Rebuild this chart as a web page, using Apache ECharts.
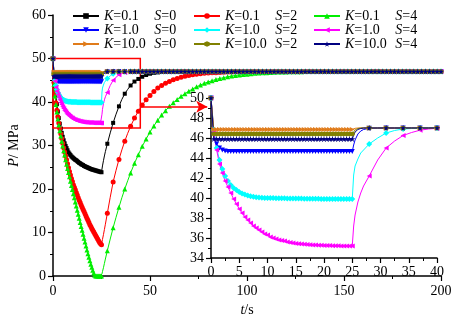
<!DOCTYPE html>
<html>
<head>
<meta charset="utf-8">
<script src="https://cdn.jsdelivr.net/npm/echarts@6.0.0/dist/echarts.min.js"></script>
<style>
  html, body { margin: 0; padding: 0; background: #fff; }
  #chart { width: 462px; height: 321px; }
</style>
</head>
<body>
<div id="chart"></div>
<script>
// legend parts
const K_LIST = ['0.1', '1.0', '10.0'];
const S_LIST = ['0', '2', '4'];

// time grid of the drawdown (0-25 s)
const DROP_T = [0, 0.5, 1, 1.5, 2, 2.5, 3, 3.5, 4, 4.5, 5, 5.5, 6, 6.5, 7, 7.5, 8, 8.5, 9, 9.5,
  10, 10.5, 11, 11.5, 12, 12.5, 13, 13.5, 14, 14.5, 15, 15.5, 16, 16.5, 17, 17.5, 18, 18.5, 19, 19.5,
  20, 20.5, 21, 21.5, 22, 22.5, 23, 23.5, 24, 24.5, 25];

// time grid of the build-up (25-200 s)
const REC_T = [25.25, 25.5, 26, 26.5, 27, 28, 29.5, 31, 32.5, 34, 35.5, 37, 38.5, 40,
  42, 44, 46, 48, 50, 52, 54, 56, 58, 60, 62, 64, 66, 68, 70, 72, 74, 76, 78, 80,
  82, 84, 86, 88, 90, 92, 94, 96, 98, 100, 102, 104, 106, 108, 110, 112, 114, 116, 118, 120,
  122, 124, 126, 128, 130, 132, 134, 136, 138, 140, 142, 144, 146, 148, 150, 152, 154, 156, 158, 160,
  162, 164, 166, 168, 170, 172, 174, 176, 178, 180, 182, 184, 186, 188, 190, 192, 194, 196, 198, 200];
// build-up points that carry a marker below 42 s
const REC_MARK_T = [28, 31, 34, 37, 40];

// pressure every curve settles at (MPa)
const P_STEADY = 47;

// drawdown pressures, MPa
const BLACK_DROP = [50, 46.5, 43.8, 41.5, 39.5, 37.8, 36.3, 35.0, 33.9, 32.9, 32.0, 31.2, 30.5, 29.9, 29.4, 28.9,
  28.4, 28.1, 27.8, 27.5, 27.3, 27.1, 26.9, 26.7, 26.6, 26.4, 26.2, 26.0, 25.9, 25.7, 25.6, 25.5, 25.3, 25.2,
  25.1, 25.0, 24.9, 24.8, 24.7, 24.6, 24.5, 24.45, 24.4, 24.3, 24.25, 24.2, 24.1, 24.05, 24.0, 23.9, 23.85];
const RED_DROP = [50, 44.5, 41.8, 39.8, 38.1, 36.6, 35.2, 33.9, 32.7, 31.6, 30.5, 29.5, 28.5, 27.6, 26.7, 25.8,
  24.9, 24.0, 23.2, 22.4, 21.7, 21.0, 20.4, 19.8, 19.2, 18.6, 18.0, 17.4, 16.9, 16.3, 15.8, 15.3, 14.8, 14.3,
  13.8, 13.3, 12.8, 12.3, 11.8, 11.4, 10.9, 10.5, 10.1, 9.7, 9.3, 8.9, 8.5, 8.1, 7.7, 7.4, 7.2];
const GREEN_DROP = [50, 44.0, 41.4, 39.4, 37.7, 36.1, 34.7, 33.4, 32.2, 31.0, 29.9, 28.8, 27.8, 26.7, 25.7, 24.7,
  23.8, 22.8, 21.8, 20.8, 19.9, 18.9, 18.0, 17.0, 16.1, 15.1, 14.2, 13.3, 12.3, 11.4, 10.5, 9.6, 8.7, 7.8,
  6.9, 6.0, 5.1, 4.3, 3.5, 2.7, 2.0, 1.3, 0.7, 0.2, 0, 0, 0, 0, 0, 0, 0];
const BLUE_DROP = [50, 46.4, 45.4, 45.0, 44.8, 44.7,
  44.65, 44.65, 44.65, 44.65, 44.65, 44.65, 44.65, 44.65, 44.65, 44.65,
  44.65, 44.65, 44.65, 44.65, 44.65, 44.65, 44.65, 44.65, 44.65, 44.65,
  44.65, 44.65, 44.65, 44.65, 44.65, 44.65, 44.65, 44.65, 44.65, 44.65,
  44.65, 44.65, 44.65, 44.65, 44.65, 44.65, 44.65, 44.65, 44.65, 44.65,
  44.65, 44.65, 44.65, 44.65, 44.65];
const CYAN_DROP = [50, 46.8, 45.0, 43.8, 42.9, 42.2, 41.7, 41.3, 41.0, 40.8, 40.6, 40.45, 40.35, 40.25, 40.18,
  40.12, 40.08, 40.05, 40.03, 40.01, 40.0, 39.99, 39.99, 39.98, 39.98, 39.97, 39.97, 39.96, 39.96,
  39.95, 39.95, 39.94, 39.94, 39.93, 39.93, 39.93, 39.92, 39.92, 39.92, 39.91, 39.91,
  39.91, 39.91, 39.9, 39.9, 39.9, 39.9, 39.9, 39.9, 39.9, 39.9];
const MAGENTA_DROP = [50, 46.6, 44.8, 43.4, 42.5, 41.7, 41.1, 40.5, 39.9, 39.4, 38.9, 38.5, 38.1, 37.8, 37.5,
  37.2, 37.0, 36.8, 36.6, 36.4, 36.3, 36.1, 36.0, 35.9, 35.8, 35.75, 35.7, 35.6, 35.55, 35.5, 35.45, 35.42,
  35.4, 35.37, 35.35, 35.33, 35.3, 35.29, 35.28, 35.27, 35.26, 35.25, 35.24, 35.23, 35.22, 35.22, 35.21,
  35.21, 35.2, 35.2, 35.2];
const ORANGE_DROP = [50,
  46.85, 46.85, 46.85, 46.85, 46.85, 46.85, 46.85, 46.85, 46.85, 46.85,
  46.85, 46.85, 46.85, 46.85, 46.85, 46.85, 46.85, 46.85, 46.85, 46.85,
  46.85, 46.85, 46.85, 46.85, 46.85, 46.85, 46.85, 46.85, 46.85, 46.85,
  46.85, 46.85, 46.85, 46.85, 46.85, 46.85, 46.85, 46.85, 46.85, 46.85,
  46.85, 46.85, 46.85, 46.85, 46.85, 46.85, 46.85, 46.85, 46.85, 46.85];
const OLIVE_DROP = [50,
  46.4, 46.4, 46.4, 46.4, 46.4, 46.4, 46.4, 46.4, 46.4, 46.4,
  46.4, 46.4, 46.4, 46.4, 46.4, 46.4, 46.4, 46.4, 46.4, 46.4,
  46.4, 46.4, 46.4, 46.4, 46.4, 46.4, 46.4, 46.4, 46.4, 46.4,
  46.4, 46.4, 46.4, 46.4, 46.4, 46.4, 46.4, 46.4, 46.4, 46.4,
  46.4, 46.4, 46.4, 46.4, 46.4, 46.4, 46.4, 46.4, 46.4, 46.4];
const NAVY_DROP = [50,
  45.9, 45.9, 45.9, 45.9, 45.9, 45.9, 45.9, 45.9, 45.9, 45.9,
  45.9, 45.9, 45.9, 45.9, 45.9, 45.9, 45.9, 45.9, 45.9, 45.9,
  45.9, 45.9, 45.9, 45.9, 45.9, 45.9, 45.9, 45.9, 45.9, 45.9,
  45.9, 45.9, 45.9, 45.9, 45.9, 45.9, 45.9, 45.9, 45.9, 45.9,
  45.9, 45.9, 45.9, 45.9, 45.9, 45.9, 45.9, 45.9, 45.9, 45.9];

// build-up pressures on REC_T, listed until the curve reaches P_STEADY
const BLACK_REC = [24.6, 25.3, 26.5, 27.6, 28.6, 30.4, 32.9, 35.2, 37.2, 39.0, 40.6, 41.9, 42.9, 43.8,
  44.7, 45.3, 45.8, 46.2, 46.5, 46.7, 46.8, 46.9, 46.95, 47];
const RED_REC = [7.8, 8.4, 9.5, 10.7, 11.9, 14.4, 18.1, 21.6, 24.3, 26.8, 29.0, 31.0, 32.8, 34.4,
  36.3, 37.9, 39.3, 40.5, 41.5, 42.4, 43.2, 43.8, 44.3, 44.7, 45.1, 45.4, 45.7, 45.9, 46.1, 46.25, 46.4,
  46.5, 46.6, 46.65, 46.7, 46.75, 46.8, 46.85, 46.9, 46.92, 46.94, 46.96, 46.98, 47];
const GREEN_REC = [0.5, 1.0, 1.9, 2.9, 3.9, 5.8, 8.5, 11.1, 13.5, 15.8, 18.0, 20.0, 21.9, 23.7,
  25.9, 27.9, 29.8, 31.5, 33.1, 34.5, 35.8, 37.0, 38.0, 39.0, 39.8, 40.6, 41.3, 41.9, 42.5, 43.0, 43.5,
  43.9, 44.3, 44.6, 44.9, 45.2, 45.4, 45.6, 45.8, 45.95, 46.1, 46.2, 46.3, 46.4, 46.5, 46.6, 46.65, 46.7,
  46.75, 46.8, 46.84, 46.87, 46.9, 46.92, 46.94, 46.96, 46.97, 46.98, 46.99, 47];
const BLUE_REC = [45.3, 45.8, 46.4, 46.7, 46.85, 46.97, 47];
const CYAN_REC = [42.3, 43.2, 43.9, 44.5, 44.8, 45.4, 46.0, 46.5, 46.75, 46.9, 46.95, 46.98, 47];
const MAGENTA_REC = [37.2, 38.3, 39.6, 40.5, 41.2, 42.2, 43.8, 45.0, 45.7, 46.25, 46.55, 46.78, 46.9, 46.97, 47];
const ORANGE_REC = [46.92, 46.97, 47];
const OLIVE_REC = [46.6, 46.8, 46.95, 47];
const NAVY_REC = [46.3, 46.6, 46.85, 46.95, 47];

// annotation: zoom box (t, P corners) and arrow to the inset
const ZOOM_BOX = [[0, 50], [45, 34]];
const ARROW = [[45, 38.9], [79.5, 38.9]];

const FONT = 'Liberation Serif';
const DROPS = [BLACK_DROP, RED_DROP, GREEN_DROP, BLUE_DROP, CYAN_DROP, MAGENTA_DROP, ORANGE_DROP, OLIVE_DROP, NAVY_DROP];
const RECS = [BLACK_REC, RED_REC, GREEN_REC, BLUE_REC, CYAN_REC, MAGENTA_REC, ORANGE_REC, OLIVE_REC, NAVY_REC];
const HEX = 'path://M0,-1L0.866,-0.5L0.866,0.5L0,1L-0.866,0.5L-0.866,-0.5Z';
const STAR = 'path://M0,-1L0.225,-0.31L0.95,-0.31L0.36,0.12L0.59,0.81L0,0.38L-0.59,0.81L-0.36,0.12L-0.95,-0.31L-0.225,-0.31Z';
const LOOKS = [
  { color: '#000000', symbol: 'rect', rotate: 0, size: 4 },
  { color: '#ff0000', symbol: 'circle', rotate: 0, size: 5 },
  { color: '#00ee00', symbol: 'triangle', rotate: 0, size: 5 },
  { color: '#0000ff', symbol: 'triangle', rotate: 180, size: 5 },
  { color: '#00ffff', symbol: 'diamond', rotate: 0, size: 6 },
  { color: '#ff00ff', symbol: 'triangle', rotate: 90, size: 5 },
  { color: '#e07b1a', symbol: 'triangle', rotate: -90, size: 5 },
  { color: '#808000', symbol: HEX, rotate: 0, size: 5 },
  { color: '#000080', symbol: STAR, rotate: 0, size: 6 },
];

function seriesName(i) {
  return 'K=' + K_LIST[Math.floor(i / 3)] + ' S=' + S_LIST[i % 3];
}

function buildData(drop, rec) {
  const pts = DROP_T.map((t, i) => [t, drop[i]]);
  REC_T.forEach((t, j) => {
    const v = j < rec.length ? rec[j] : P_STEADY;
    const marked = t >= 42 || REC_MARK_T.includes(t);
    pts.push(marked ? [t, v] : { value: [t, v], symbol: 'none' });
  });
  return pts;
}

function makeSeries(i, grid) {
  const look = LOOKS[i];
  return {
    type: 'line',
    name: seriesName(i),
    xAxisIndex: grid,
    yAxisIndex: grid,
    data: buildData(DROPS[i], RECS[i]),
    symbol: look.symbol,
    symbolRotate: look.rotate,
    symbolSize: look.size,
    showAllSymbol: true,
    clip: true,
    lineStyle: { color: look.color, width: 1 },
    itemStyle: { color: look.color },
    emphasis: { disabled: true },
  };
}

function axis(extra) {
  return Object.assign({
    type: 'value',
    splitLine: { show: false },
    axisLine: { show: true, onZero: false, lineStyle: { color: '#000', width: 1.5 } },
    axisTick: { show: true, inside: false, length: 5, lineStyle: { color: '#000', width: 1.2 } },
    minorTick: { show: true, splitNumber: 2, length: 3, lineStyle: { color: '#000', width: 1 } },
    minorSplitLine: { show: false },
    axisLabel: { color: '#000', fontFamily: FONT, fontSize: 14, margin: 7 },
  }, extra);
}

const nameRich = {
  i: { fontFamily: FONT, fontSize: 14, fontStyle: 'italic', color: '#000' },
  n: { fontFamily: FONT, fontSize: 14, color: '#000' },
};

const legendRich = {
  ki: { fontFamily: FONT, fontSize: 14, fontStyle: 'italic', lineHeight: 16, color: '#000' },
  kv: { fontFamily: FONT, fontSize: 14, width: 41, lineHeight: 16, color: '#000' },
  si: { fontFamily: FONT, fontSize: 14, fontStyle: 'italic', lineHeight: 16, color: '#000' },
  sv: { fontFamily: FONT, fontSize: 14, lineHeight: 16, color: '#000' },
};

const LEGEND_LEFT = [72, 193, 313];

const chart = echarts.init(document.getElementById('chart'), null, { renderer: 'canvas' });

const mainSeries = [0, 1, 2, 3, 4, 5, 6, 7, 8].map(i => makeSeries(i, 0));
// the zoom box and arrow ride on the last main series so they sit above the curves
mainSeries[8].markArea = {
  silent: true,
  itemStyle: { color: 'rgba(0,0,0,0)', borderColor: '#ff0000', borderWidth: 1.5 },
  data: [[{ coord: ZOOM_BOX[0] }, { coord: ZOOM_BOX[1] }]],
};
mainSeries[8].markLine = {
  silent: true,
  symbol: ['none', 'arrow'],
  symbolSize: [9, 11],
  label: { show: false },
  itemStyle: { color: '#ff0000' },
  lineStyle: { color: '#ff0000', width: 1.5, type: 'solid' },
  data: [[{ coord: ARROW[0] }, { coord: ARROW[1] }]],
};
// the inset only shows the K=1.0 and K=10.0 curves
const insetSeries = [3, 4, 5, 6, 7, 8].map(i => makeSeries(i, 1));

const option = {
  animation: false,
  backgroundColor: '#fff',
  grid: [
    { left: 53, right: 21, top: 15, bottom: 45, outerBoundsMode: 'none' },
    { left: 211, top: 98, width: 226, height: 160, outerBoundsMode: 'none' },
  ],
  xAxis: [
    axis({
      gridIndex: 0, min: 0, max: 200, interval: 50,
      name: '{i|t}{n|/s}', nameLocation: 'middle', nameGap: 22,
      nameTextStyle: { rich: nameRich },
      axisLabel: { color: '#000', fontFamily: FONT, fontSize: 14, margin: 8 },
    }),
    axis({ gridIndex: 1, min: 0, max: 40, interval: 5 }),
  ],
  yAxis: [
    axis({
      gridIndex: 0, min: 0, max: 60, interval: 10,
      name: '{i|P}{n|/ MPa}', nameLocation: 'middle', nameRotate: 90, nameGap: 28,
      nameTextStyle: { rich: nameRich },
    }),
    axis({ gridIndex: 1, min: 34, max: 50, interval: 2 }),
  ],
  legend: LEGEND_LEFT.map((left, c) => ({
    data: [c, c + 3, c + 6].map(seriesName),
    orient: 'vertical',
    left: left,
    top: 9,
    padding: 0,
    itemGap: 0,
    itemWidth: 26,
    itemHeight: 7,
    symbolRotate: 'inherit',
    selectedMode: false,
    textStyle: { rich: legendRich },
    formatter: name => {
      const parts = name.split(' ');
      return '{ki|K}{kv|' + parts[0].slice(1) + '}{si|S}{sv|' + parts[1].slice(1) + '}';
    },
  })),
  series: mainSeries.concat(insetSeries),
};

chart.setOption(option);
window.addEventListener('resize', () => chart.resize());
</script>
</body>
</html>
